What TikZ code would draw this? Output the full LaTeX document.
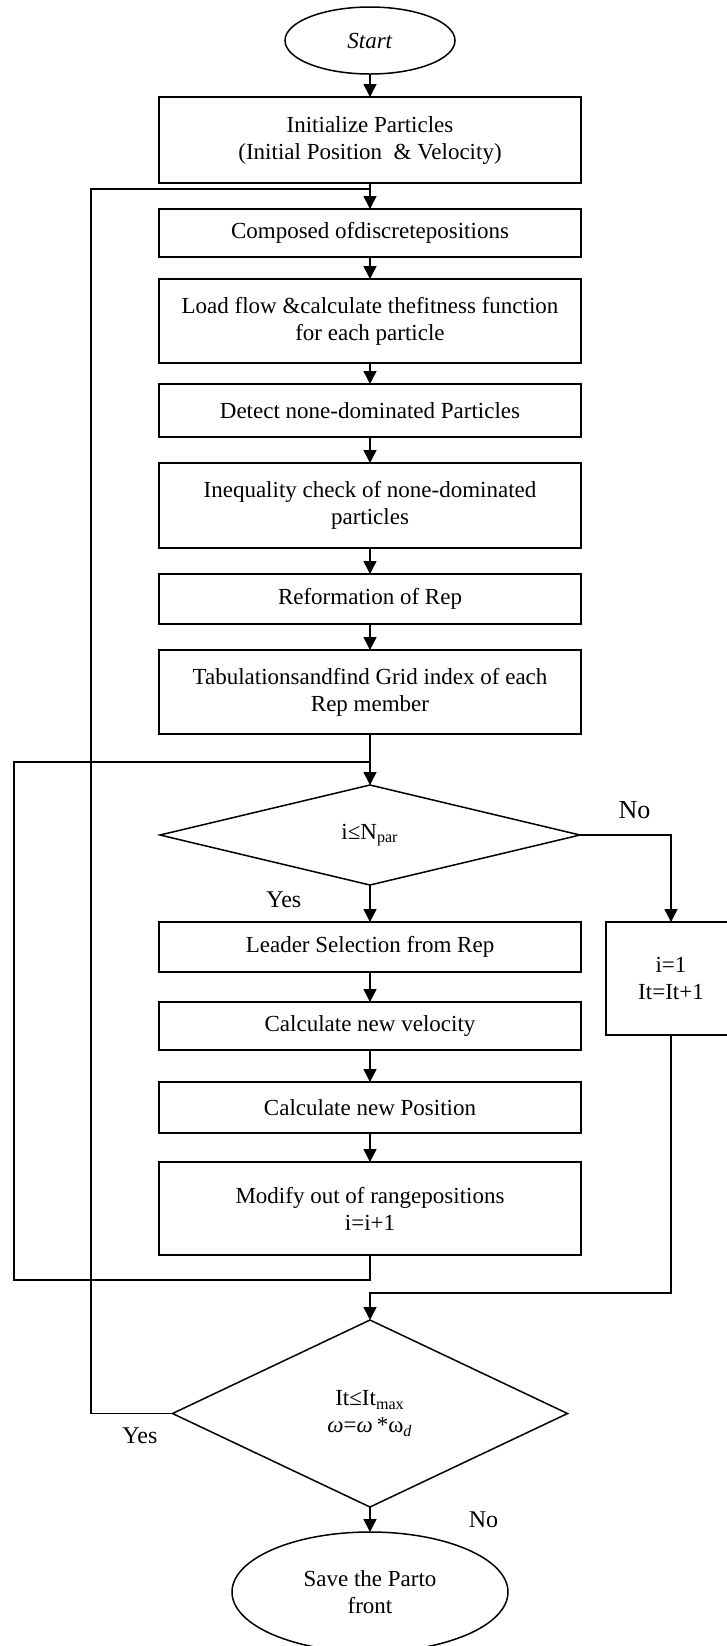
\documentclass[tikz,border=0pt]{standalone}
\usepackage{fontspec}
\setmainfont{Liberation Serif}
\usepackage{tikz}
\usetikzlibrary{shapes.geometric, positioning, arrows.meta}

\begin{document}
\begin{tikzpicture}[x=0.5pt, y=-0.5pt, >={Triangle[length=6.5pt,width=6.5pt]},
                line width=0.75pt, font=\fontsize{11.5}{13.5}\selectfont,
                procbox/.style={draw, rectangle, minimum width=211pt, align=center, inner sep=2pt, outer sep=0pt},
                terminal/.style={draw, ellipse, inner sep=0pt, outer sep=0pt, align=center},
                decision/.style={draw, diamond, inner sep=0pt, outer sep=0pt, align=center},
                lbl/.style={inner sep=1pt, font=\fontsize{12}{14}\selectfont}]

                \useasboundingbox (0,0) rectangle (727,1646);

                \node[terminal, minimum width=85pt, minimum height=33.5pt] (start) at (370,40.5) {\textit{Start}};
                \node[procbox, minimum height=43pt] (init) [below=11.5pt of start] {Initialize Particles\\(Initial Position~ \& Velocity)};
                \coordinate[below=3pt of init] (join1);
                \node[procbox, minimum height=24pt] (compose) [below=13pt of init] {Composed ofdiscretepositions};
                \node[procbox, minimum height=42pt] (fitness) [below=11pt of compose] {Load flow \&calculate thefitness function\\for each particle};
                \node[procbox, minimum height=26.5pt] (detect) [below=10.5pt of fitness] {Detect none-dominated Particles};
                \node[procbox, minimum height=42.5pt] (ineq) [below=13pt of detect] {Inequality check of none-dominated\\particles};
                \node[procbox, minimum height=25pt] (reform) [below=13pt of ineq] {Reformation of Rep};
                \node[procbox, minimum height=42pt] (grid) [below=13pt of reform] {Tabulationsandfind Grid index of each\\Rep member};
                \coordinate[below=14pt of grid] (join0);
                \node[decision, minimum width=210pt, minimum height=50pt] (ichk) [below=25.5pt of grid] {i≤N\textsubscript{par}};
                \node[procbox, minimum height=25pt] (leader) [below=18.5pt of ichk] {Leader Selection from Rep};
                \node[procbox, minimum height=24pt] (vel) [below=15pt of leader] {Calculate new velocity};
                \node[procbox, minimum height=25.5pt] (pos) [below=16pt of vel] {Calculate new Position};
                \node[procbox, minimum height=46.5pt] (modify) [below=14.5pt of pos] {Modify out of rangepositions\\i=i+1};
                \node[procbox, minimum width=65pt, minimum height=56.5pt] (reset) [right=12.5pt of leader.north east, anchor=north west] {i=1\\It=It+1};
                \node[decision, minimum width=197.5pt, minimum height=93.5pt] (itchk) [below=32.5pt of modify] {It≤It\textsubscript{max}\\\textit{ω}=\textit{ω}\,*ω\textsubscript{\textit{d}}};
                \coordinate[above=13.5pt of itchk] (join2);
                \node[terminal, minimum width=138pt, minimum height=60pt] (save) [below=12.5pt of itchk] {Save the Parto\\front};

                \path[->]
                (start) edge (init)
                (init) edge (compose)
                (compose) edge (fitness)
                (fitness) edge (detect)
                (detect) edge (ineq)
                (ineq) edge (reform)
                (reform) edge (grid)
                (grid) edge (ichk)
                (ichk) edge node[lbl, pos=0.4, left=33pt] {Yes} (leader)
                (leader) edge (vel)
                (vel) edge (pos)
                (pos) edge (modify)
                (itchk) edge node[lbl, right=48pt] {No} (save);

                \draw[->] (ichk.east) -| node[lbl, pos=0.3, above=7pt, font=\fontsize{13}{15}\selectfont] {No} (reset.north);
                \draw[->] (reset.south) |- (join2) -- (itchk.north);
                \draw (modify.south) -- ++(0,-12.5pt) -- ++(-178pt,0) |- (join0);
                \draw (itchk.west) -- node[lbl, pos=0.4, below=6pt] {Yes} ++(-40.75pt,0) |- (join1);

            \end{tikzpicture}
\end{document}
